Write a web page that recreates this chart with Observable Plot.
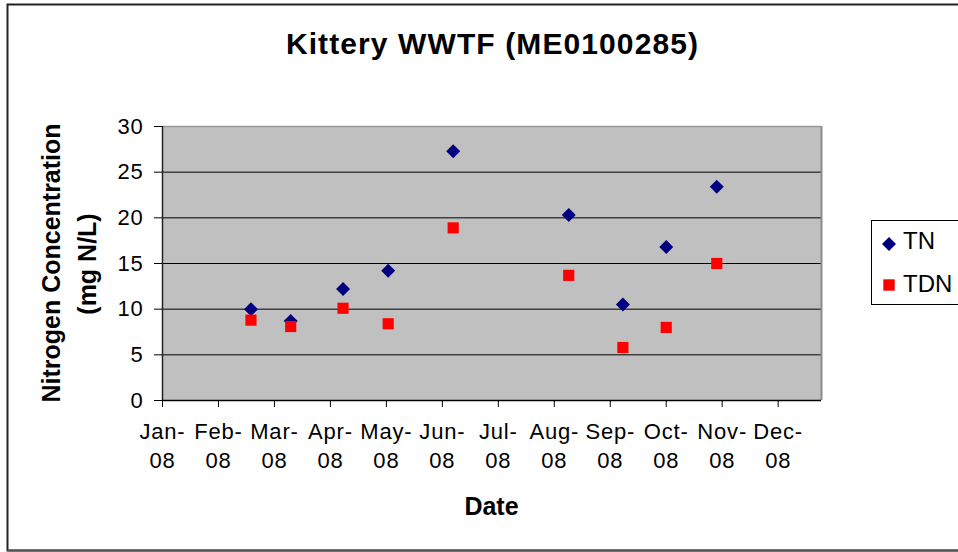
<!DOCTYPE html>
<html>
<head>
<meta charset="utf-8">
<script src="https://cdn.jsdelivr.net/npm/d3@7"></script>
<script src="https://cdn.jsdelivr.net/npm/@observablehq/plot@0.6"></script>
<style>
  html, body { margin: 0; padding: 0; background: #fff; }
  #wrap { position: relative; width: 958px; height: 552px; overflow: hidden; font-family: "Liberation Sans", Arial, sans-serif; }
  #chart { position: absolute; left: 0; top: 0; }
  #overlay { position: absolute; left: 0; top: 0; pointer-events: none; }
  #chart svg [aria-label$="tick label"] text { letter-spacing: 0.8px; }
</style>
</head>
<body>
<div id="wrap">
  <div id="chart"></div>
  <svg id="overlay" width="958" height="552" font-family="Liberation Sans, Arial, sans-serif" fill="#000">
    <path d="M958,4.5 H7.5 V550.5 H958" fill="none" stroke="#222" stroke-width="2"/>
    <line x1="7.5" y1="550.5" x2="958" y2="550.5" stroke="#555" stroke-width="2"/>
    <text x="492.5" y="54.3" text-anchor="middle" font-size="30" font-weight="bold" letter-spacing="1.1">Kittery WWTF (ME0100285)</text>
    <text transform="translate(60,263) rotate(-90)" text-anchor="middle" font-size="25" font-weight="bold">Nitrogen Concentration</text>
    <text transform="translate(96,264) rotate(-90)" text-anchor="middle" font-size="25" font-weight="bold">(mg N/L)</text>
    <text x="491.5" y="515" text-anchor="middle" font-size="25" font-weight="bold">Date</text>
    <rect x="871.5" y="220.5" width="120" height="84" fill="#fff" stroke="#000" stroke-width="1"/>
    <path d="M889,237 L896,244 L889,251 L882,244 Z" fill="#000080"/>
    <rect x="883.3" y="279.3" width="11.4" height="11.4" fill="#ff0000"/>
    <text x="903" y="249.3" font-size="24">TN</text>
    <text x="903" y="291.7" font-size="24">TDN</text>
  </svg>
</div>
<script>
// Sample dates (2008)
const sampleDates = ["2008-02-19","2008-03-12","2008-04-10","2008-05-05","2008-06-10","2008-08-13","2008-09-12","2008-10-06","2008-11-03"];
// Total Nitrogen (mg N/L)
const tnValues  = [10.0, 8.7, 12.2, 14.2, 27.3, 20.3, 10.5, 16.8, 23.4];
// Total Dissolved Nitrogen (mg N/L)
const tdnValues = [8.8, 8.1, 10.1, 8.4, 18.9, 13.7, 5.8, 8.0, 15.0];

// X-axis ticks (Excel date axis, 31-day major unit) and their labels
const xTickDates  = ["2008-01-01","2008-02-01","2008-03-03","2008-04-03","2008-05-04","2008-06-04","2008-07-05","2008-08-05","2008-09-05","2008-10-06","2008-11-06","2008-12-07"];
const xTickLabels = ["Jan-08","Feb-08","Mar-08","Apr-08","May-08","Jun-08","Jul-08","Aug-08","Sep-08","Oct-08","Nov-08","Dec-08"];
const xDomain = ["2008-01-01","2008-12-31"];
const yTicks = [0, 5, 10, 15, 20, 25, 30];
const yGrid = [5, 10, 15, 20, 25];

const data = sampleDates.map((d, i) => ({date: new Date(d), TN: tnValues[i], TDN: tdnValues[i]}));
const ticks = xTickDates.map(d => new Date(d));
const labelOf = new Map(ticks.map((d, i) => [+d, xTickLabels[i]]));
const line1 = d => labelOf.get(+d).split("-")[0] + "-";
const line2 = d => labelOf.get(+d).split("-")[1];
const x0 = new Date(xDomain[0]), x1 = new Date(xDomain[1]);

const chart = Plot.plot({
  width: 958,
  height: 552,
  marginLeft: 162,
  marginRight: 137,
  marginTop: 126,
  marginBottom: 152,
  style: {fontFamily: "Liberation Sans, Arial, sans-serif", fontSize: "22px", color: "#000", background: "transparent"},
  x: {type: "utc", domain: [x0, x1]},
  y: {domain: [0, 30]},
  marks: [
    Plot.frame({fill: "#c0c0c0", stroke: null}),
    Plot.gridY(yGrid, {stroke: "#000", strokeOpacity: 1}),
    Plot.ruleY([30], {stroke: "#999", strokeWidth: 1.5}),
    Plot.ruleX([x1], {stroke: "#8c8c8c", strokeWidth: 2}),
    Plot.ruleX([x0], {stroke: "#222", strokeWidth: 1.5}),
    Plot.ruleY([0], {stroke: "#000", strokeWidth: 1.5}),
    Plot.axisY(yTicks, {tickSize: 8, tickPadding: 11, fontSize: 22, label: null}),
    Plot.axisX(ticks, {tickSize: 7, tickPadding: 16, fontSize: 22, tickFormat: line1, label: null}),
    Plot.axisX(ticks, {tickSize: 0, tickPadding: 52, fontSize: 22, tickFormat: line2, label: null}),
    Plot.dot(data, {x: "date", y: "TN", symbol: "diamond2", r: 6.3, fill: "#000080", stroke: null}),
    Plot.dot(data, {x: "date", y: "TDN", symbol: "square", r: 6.3, fill: "#ff0000", stroke: null})
  ]
});
document.getElementById("chart").appendChild(chart);
</script>
</body>
</html>
